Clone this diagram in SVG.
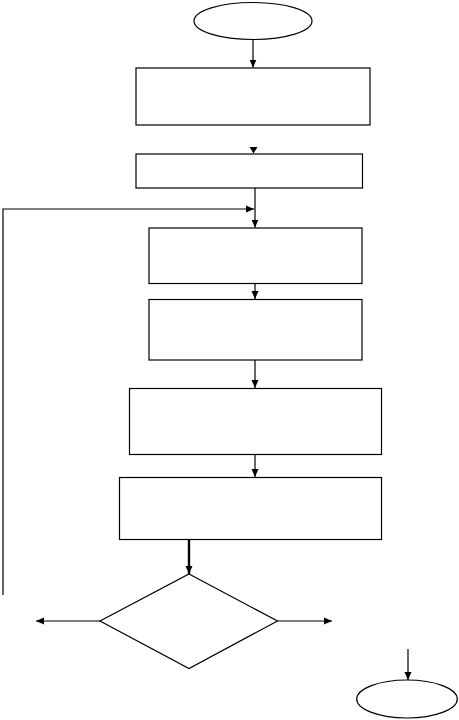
<svg xmlns="http://www.w3.org/2000/svg" width="459" height="720" viewBox="0 0 459 720">
<style>
.n{fill:#fff;stroke:#000;stroke-width:1.2}
.c{fill:none;stroke:#000;stroke-width:1.2}
.t{stroke-width:2.4}
</style>
<defs>
<marker id="a" markerUnits="userSpaceOnUse" markerWidth="8" markerHeight="8" viewBox="0 0 8 8" refX="8" refY="4" orient="auto">
<path d="M0,0.5 L8,4 L0,7.5 Z" fill="#000"/>
</marker>
</defs>
<rect width="459" height="720" fill="#fff"/>
<g id="start"><ellipse class="n" cx="253" cy="21" rx="59" ry="18.5"/></g>
<g id="box1"><rect class="n" x="136" y="68" width="234" height="57"/></g>
<g id="box2"><rect class="n" x="136" y="154" width="226.5" height="34"/></g>
<g id="box3"><rect class="n" x="149" y="228" width="213" height="55.5"/></g>
<g id="box4"><rect class="n" x="149" y="299.5" width="213" height="60.5"/></g>
<g id="box5"><rect class="n" x="129.5" y="388.5" width="252" height="66"/></g>
<g id="box6"><rect class="n" x="119.5" y="477.5" width="262" height="62"/></g>
<g id="decision"><polygon class="n" points="189,574 277.5,621 189,668.5 100,621"/></g>
<g id="end"><ellipse class="n" cx="407" cy="699" rx="50.3" ry="19"/></g>
<g id="connectors">
<path class="c" d="M253,39.5 V67.5" marker-end="url(#a)"/>
<polygon points="249.5,147 257.5,147 253.5,153.5" fill="#000"/>
<path class="c" d="M255,188 V227.5" marker-end="url(#a)"/>
<path class="c" d="M3,595 V209 H254" marker-end="url(#a)"/>
<path class="c" d="M255,283.5 V299" marker-end="url(#a)"/>
<path class="c" d="M255,360 V388" marker-end="url(#a)"/>
<path class="c" d="M255,454.5 V477" marker-end="url(#a)"/>
<path class="c t" d="M189,539.5 V574" marker-end="url(#a)"/>
<path class="c" d="M100,621 H36" marker-end="url(#a)"/>
<path class="c" d="M277.5,621 H332" marker-end="url(#a)"/>
<path class="c" d="M408,649 V680" marker-end="url(#a)"/>
</g>
</svg>
